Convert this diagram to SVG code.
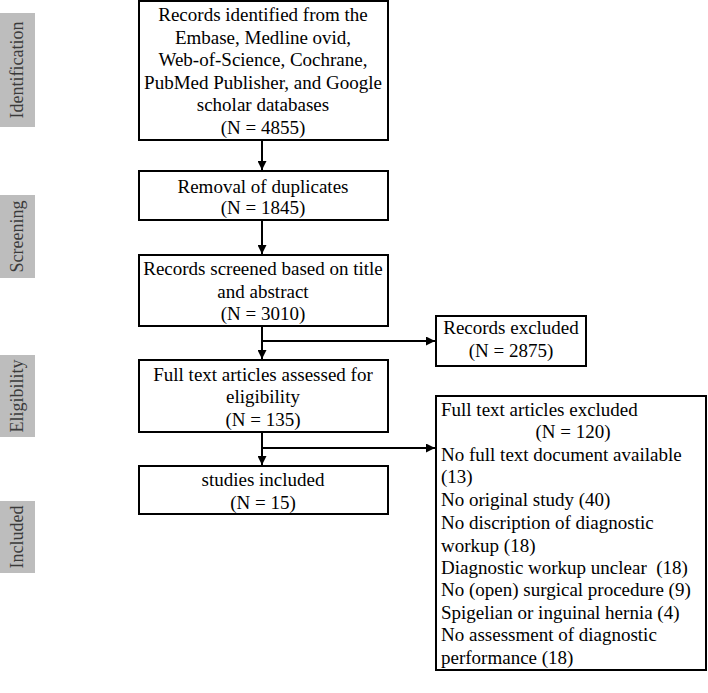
<svg xmlns="http://www.w3.org/2000/svg" width="708" height="693" viewBox="0 0 708 693">
<defs>
<style>
.side{fill:#bdbdbd}
.sidet{font-family:"Liberation Serif","Times New Roman",serif;font-size:18px;fill:#3a3a3a;text-anchor:middle}
.box{fill:#fff;stroke:#000;stroke-width:2}
.t{font-family:"Liberation Serif","Times New Roman",serif;font-size:19px;fill:#000;text-anchor:middle}
.tl{font-family:"Liberation Serif","Times New Roman",serif;font-size:19px;fill:#000}
.ln{fill:none;stroke:#000;stroke-width:2}
</style>
<marker id="ah" viewBox="0 0 10 10" refX="10" refY="5" markerWidth="4.5" markerHeight="4.5" orient="auto" markerUnits="strokeWidth">
<path d="M0,0 L10,5 L0,10 z" fill="#000"/>
</marker>
</defs>
<rect width="708" height="693" fill="#fff"/>
<g id="stage-identification">
<rect class="side" x="0" y="13" width="35" height="114"/>
<text class="sidet" transform="translate(23,70) rotate(-90)">Identification</text>
</g>
<g id="stage-screening">
<rect class="side" x="0" y="195" width="35" height="83"/>
<text class="sidet" transform="translate(23,236.5) rotate(-90)">Screening</text>
</g>
<g id="stage-eligibility">
<rect class="side" x="0" y="355" width="35" height="82"/>
<text class="sidet" transform="translate(23,396) rotate(-90)">Eligibility</text>
</g>
<g id="stage-included">
<rect class="side" x="0" y="501" width="35" height="72"/>
<text class="sidet" transform="translate(23,537) rotate(-90)">Included</text>
</g>
<g id="connectors">
<line class="ln" x1="262" y1="140" x2="262" y2="170" marker-end="url(#ah)"/>
<line class="ln" x1="262" y1="220" x2="262" y2="254" marker-end="url(#ah)"/>
<line class="ln" x1="262" y1="326" x2="262" y2="359" marker-end="url(#ah)"/>
<line class="ln" x1="262" y1="341" x2="435" y2="341" marker-end="url(#ah)"/>
<line class="ln" x1="262" y1="432" x2="262" y2="465" marker-end="url(#ah)"/>
<line class="ln" x1="262" y1="448" x2="435" y2="448" marker-end="url(#ah)"/>
</g>
<g id="records-identified">
<rect class="box" x="139" y="1" width="249" height="139"/>
<text class="t" x="263" y="21">Records identified from the</text>
<text class="t" x="263" y="44">Embase, Medline ovid,</text>
<text class="t" x="263" y="66">Web-of-Science, Cochrane,</text>
<text class="t" x="263" y="89">PubMed Publisher, and Google</text>
<text class="t" x="263" y="111">scholar databases</text>
<text class="t" x="263" y="134">(N = 4855)</text>
</g>
<g id="removal-duplicates">
<rect class="box" x="139" y="171" width="249" height="49"/>
<text class="t" x="263" y="193">Removal of duplicates</text>
<text class="t" x="263" y="214">(N = 1845)</text>
</g>
<g id="records-screened">
<rect class="box" x="139" y="255" width="249" height="71"/>
<text class="t" x="263" y="275">Records screened based on title</text>
<text class="t" x="263" y="298">and abstract</text>
<text class="t" x="263" y="320">(N = 3010)</text>
</g>
<g id="full-text-assessed">
<rect class="box" x="139" y="360" width="249" height="72"/>
<text class="t" x="263" y="381">Full text articles assessed for</text>
<text class="t" x="263" y="403">eligibility</text>
<text class="t" x="263" y="426">(N = 135)</text>
</g>
<g id="studies-included">
<rect class="box" x="139" y="466" width="249" height="48"/>
<text class="t" x="263" y="486">studies included</text>
<text class="t" x="263" y="509">(N = 15)</text>
</g>
<g id="records-excluded">
<rect class="box" x="436" y="316" width="150" height="50"/>
<text class="t" x="511" y="334">Records excluded</text>
<text class="t" x="511" y="357">(N = 2875)</text>
</g>
<g id="full-text-excluded">
<rect class="box" x="436" y="396" width="270" height="274"/>
<text class="tl" x="441" y="416">Full text articles excluded</text>
<text class="t" x="573" y="438">(N = 120)</text>
<text class="tl" x="441" y="461">No full text document available</text>
<text class="tl" x="441" y="483">(13)</text>
<text class="tl" x="441" y="506">No original study (40)</text>
<text class="tl" x="441" y="529">No discription of diagnostic</text>
<text class="tl" x="441" y="552">workup (18)</text>
<text class="tl" x="441" y="574" xml:space="preserve">Diagnostic workup unclear  (18)</text>
<text class="tl" x="441" y="596">No (open) surgical procedure (9)</text>
<text class="tl" x="441" y="619">Spigelian or inguinal hernia (4)</text>
<text class="tl" x="441" y="641">No assessment of diagnostic</text>
<text class="tl" x="441" y="664">performance (18)</text>
</g>
</svg>
